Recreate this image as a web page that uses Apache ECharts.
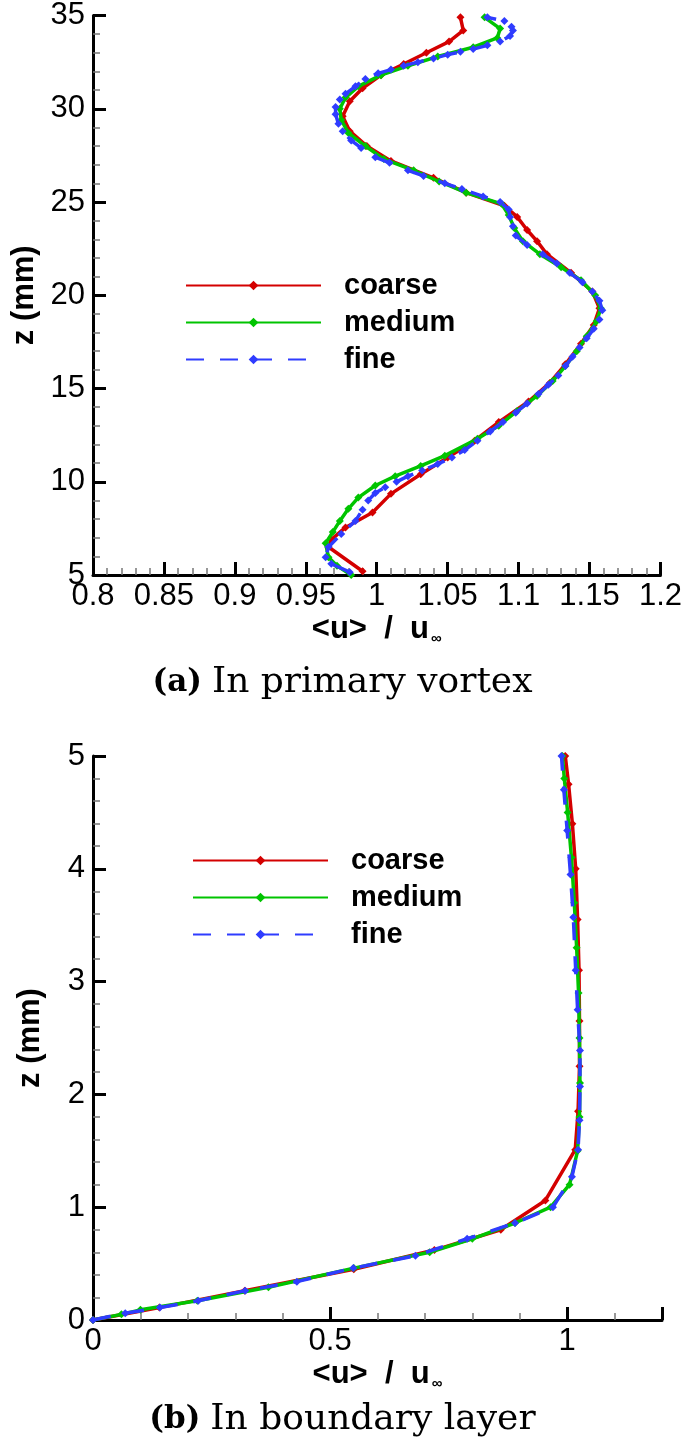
<!DOCTYPE html>
<html><head><meta charset="utf-8">
<script src="https://cdn.jsdelivr.net/npm/echarts@6/dist/echarts.min.js"></script>
<style>html,body{margin:0;padding:0;background:#fff}#c{width:685px;height:1445px}</style>
</head><body><div id="c"></div>
<script>
// ---------- Panel (a): in primary vortex ----------
const aCoarseZ = [5.2,6.5,6.9,7.55,8.35,9.35,10.4,11.3,12.2,13.2,14.3,15.3,16.3,17.4,18.4,19.3,20.2,21.2,22.2,22.9,23.5,24.2,24.8,25.5,26.3,27.2,28.0,28.8,29.6,30.4,31.1,31.8,32.4,33.0,33.6,34.2,34.9];
const aCoarseX = [0.990,0.966,0.968,0.978,0.997,1.010,1.031,1.050,1.069,1.086,1.107,1.122,1.133,1.144,1.153,1.157,1.152,1.137,1.120,1.113,1.106,1.099,1.090,1.063,1.040,1.010,0.993,0.981,0.976,0.981,0.990,1.003,1.019,1.035,1.051,1.061,1.059];
const aMediumZ = [5.0,5.5,5.95,6.7,7.3,7.9,8.55,9.15,9.8,10.3,10.85,11.4,12.3,13.0,13.8,14.6,15.4,16.2,17.0,17.8,18.6,19.3,20.0,20.8,21.5,22.2,22.9,23.6,24.3,24.9,25.5,26.1,26.7,27.3,28.0,28.7,29.4,30.0,30.6,31.2,31.8,32.3,32.8,33.3,33.8,34.3,34.9];
const aMediumX = [0.982,0.972,0.966,0.964,0.969,0.974,0.980,0.987,0.999,1.013,1.031,1.048,1.071,1.086,1.099,1.113,1.124,1.133,1.141,1.148,1.155,1.158,1.154,1.144,1.130,1.115,1.103,1.097,1.093,1.088,1.063,1.044,1.026,1.005,0.992,0.980,0.975,0.974,0.978,0.987,1.003,1.022,1.043,1.068,1.085,1.087,1.076];
const aFineZ = [5.15,5.6,5.95,6.5,7.2,7.9,8.5,9.0,9.4,9.7,10.0,10.3,10.6,10.95,11.3,11.7,12.2,12.7,13.2,13.7,14.2,14.7,15.2,15.7,16.2,16.7,17.2,17.7,18.2,18.7,19.2,19.7,20.2,20.7,21.2,21.7,22.2,22.7,23.2,23.7,24.2,24.6,25.0,25.3,25.7,26.0,26.4,26.7,27.1,27.4,27.9,28.3,28.8,29.2,29.7,30.1,30.5,30.8,31.2,31.6,31.9,32.1,32.3,32.5,32.7,32.9,33.05,33.2,33.4,33.6,33.9,34.2,34.4,34.7,34.9];
const aFineX = [0.981,0.968,0.964,0.966,0.975,0.985,0.990,0.994,0.999,1.006,1.014,1.022,1.032,1.043,1.053,1.062,1.071,1.080,1.089,1.098,1.106,1.114,1.121,1.128,1.133,1.138,1.143,1.148,1.153,1.157,1.159,1.157,1.152,1.145,1.136,1.127,1.117,1.106,1.098,1.096,1.094,1.093,1.087,1.075,1.060,1.048,1.033,1.022,1.009,0.999,0.989,0.982,0.976,0.973,0.971,0.971,0.974,0.978,0.985,0.992,1.001,1.010,1.019,1.029,1.040,1.050,1.059,1.068,1.078,1.087,1.094,1.096,1.095,1.090,1.078];

// ---------- Panel (b): in boundary layer ----------
const bCoarseZ = [0,0.11,0.26,0.45,0.62,0.80,1.06,1.51,1.85,2.25,2.65,3.10,3.55,4.00,4.40,4.75,5.0];
const bCoarseX = [0,0.14,0.32,0.55,0.72,0.86,0.954,1.017,1.023,1.026,1.026,1.025,1.022,1.018,1.011,1.003,0.996];
const bMediumZ = [0,0.05,0.09,0.17,0.29,0.46,0.60,0.72,0.86,1.00,1.20,1.50,1.80,2.10,2.50,2.90,3.30,3.70,4.10,4.50,4.80,5.0];
const bMediumX = [0,0.06,0.10,0.22,0.37,0.55,0.71,0.80,0.89,0.965,1.005,1.022,1.026,1.027,1.026,1.024,1.020,1.015,1.009,1.001,0.994,0.990];
const bFineZ = [0,0.06,0.11,0.17,0.26,0.34,0.46,0.57,0.72,0.86,1.00,1.27,1.51,1.77,2.07,2.39,2.75,3.10,3.57,3.95,4.34,4.70,5.0];
const bFineX = [0,0.068,0.141,0.222,0.321,0.430,0.549,0.680,0.789,0.89,0.97,1.010,1.023,1.026,1.027,1.027,1.022,1.018,1.013,1.007,1.000,0.993,0.988];

const names = ['coarse','medium','fine'];
const colors = ['#d40000','#00c400','#2f3cff'];
const tickFont = 'Liberation Sans';
const serif = 'DejaVu Serif';

function pairs(xs, zs){ return xs.map((v,i)=>[v, zs[i]]); }

function mkSeries(idx, xs, zs, k){
  return {
    name: names[k], type:'line', xAxisIndex: idx, yAxisIndex: idx,
    data: pairs(xs, zs), symbol:'diamond', symbolSize: 8, showSymbol:true,
    itemStyle:{color: colors[k]},
    lineStyle:{color: colors[k], width:3.5, type: k===2 ? [18,16] : 'solid'},
    animation:false, z: 2+k
  };
}

function axisCommon(){
  return {
    axisLine:{show:true, onZero:false, lineStyle:{color:'#000', width:3}},
    axisTick:{show:true, inside:true, length:13, lineStyle:{color:'#000', width:3}},
    minorTick:{show:true, splitNumber:5, length:7, lineStyle:{color:'#777', width:1.5}},
    splitLine:{show:false}, minorSplitLine:{show:false},
    axisLabel:{color:'#000', fontFamily:tickFont, fontSize:31, margin:6},
    nameTextStyle:{color:'#000', fontFamily:tickFont, fontSize:31, fontWeight:'bold',
      rich:{sub:{fontSize:15, fontWeight:'bold', fontFamily:tickFont, color:'#000', verticalAlign:'bottom', padding:[18,0,0,2]}}}
  };
}
const fmt = v => String(+v.toFixed(2));
const xTitle = '<u>  /  u{sub|∞}';

const xA = Object.assign(axisCommon(), {type:'value', gridIndex:0, min:0.8, max:1.2, interval:0.05,
  name:xTitle, nameLocation:'middle', nameGap:38});
xA.axisLabel = Object.assign({}, xA.axisLabel, {formatter:fmt});
const yA = Object.assign(axisCommon(), {type:'value', gridIndex:0, min:5, max:35, interval:5,
  name:'z (mm)', nameLocation:'middle', nameGap:47, nameRotate:90});
yA.axisLabel = Object.assign({}, yA.axisLabel, {margin:8});
const xB = Object.assign(axisCommon(), {type:'value', gridIndex:1, min:0, max:1.2, interval:0.5,
  name:xTitle, nameLocation:'middle', nameGap:38});
xB.axisLabel = Object.assign({}, xB.axisLabel, {showMaxLabel:false, formatter:fmt});
const yB = Object.assign(axisCommon(), {type:'value', gridIndex:1, min:0, max:5, interval:1,
  name:'z (mm)', nameLocation:'middle', nameGap:47, nameRotate:90});
yB.axisLabel = Object.assign({}, yB.axisLabel, {margin:8});

const legendCommon = {
  orient:'vertical', data:names, itemWidth:135, itemHeight:12, itemGap:8,
  textStyle:{color:'#000', fontFamily:tickFont, fontSize:29, fontWeight:'bold', padding:[0,0,0,18]},
  selectedMode:false
};

function caption(tag, txt, top){
  return {type:'text', left:'center', top:top, style:{
    rich:{b:{fontFamily:serif, fontWeight:'bold', fontSize:31, fill:'#000'},
          r:{fontFamily:serif, fontSize:36, fill:'#000', padding:[0,0,0,10]}},
    text:'{b|' + tag + '}{r|' + txt + '}'}};
}

const chart = echarts.init(document.getElementById('c'), null, {renderer:'canvas'});
chart.setOption({
  backgroundColor:'#fff',
  animation:false,
  grid:[
    {left:93, top:13, width:572, height:562},
    {left:93, top:756, width:569, height:564}
  ],
  xAxis:[xA, xB],
  yAxis:[yA, yB],
  legend:[
    Object.assign({}, legendCommon, {left:180, top:266}),
    Object.assign({}, legendCommon, {left:187, top:841})
  ],
  graphic:[
    caption('(a)', 'In primary vortex', 665),
    caption('(b)', 'In boundary layer', 1402)
  ],
  series:[
    mkSeries(0, aCoarseX, aCoarseZ, 0), mkSeries(0, aMediumX, aMediumZ, 1), mkSeries(0, aFineX, aFineZ, 2),
    mkSeries(1, bCoarseX, bCoarseZ, 0), mkSeries(1, bMediumX, bMediumZ, 1), mkSeries(1, bFineX, bFineZ, 2)
  ]
});
</script></body></html>
